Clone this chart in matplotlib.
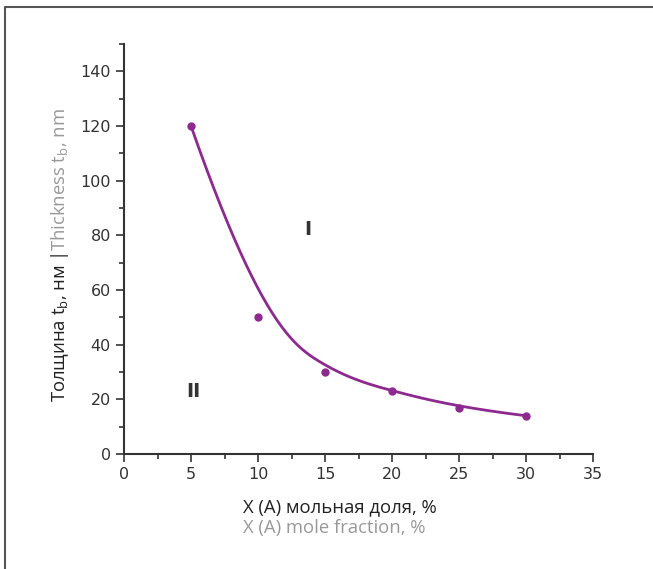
import numpy as np
import matplotlib.pyplot as plt
from matplotlib.lines import Line2D
from matplotlib.ticker import MultipleLocator

# mole fraction X(A), % and film thickness t_b, nm
mole_fraction = [5, 10, 15, 20, 25, 30]
thickness = [120, 50, 30, 23, 17, 14]

purple = '#8e2a8f'
dark = '#333333'
grey = '#999999'
label_font = ['Open Sans', 'DejaVu Sans']


def bspline(points, n=300, k=3):
    """Clamped uniform B-spline with the data points as control points."""
    P = np.asarray(points, float)
    m = len(P)
    knots = np.concatenate([np.zeros(k), np.arange(m - k + 1), np.full(k, m - k)])
    u = np.linspace(0, m - k, n)
    u[-1] -= 1e-9
    # Cox-de Boor recursion
    N = np.array([(knots[i] <= u) & (u < knots[i + 1]) for i in range(len(knots) - 1)], float).T
    for d in range(1, k + 1):
        Nn = np.zeros((n, len(knots) - 1 - d))
        for i in range(len(knots) - 1 - d):
            a = knots[i + d] - knots[i]
            b = knots[i + d + 1] - knots[i + 1]
            if a > 0:
                Nn[:, i] += (u - knots[i]) / a * N[:, i]
            if b > 0:
                Nn[:, i] += (knots[i + d + 1] - u) / b * N[:, i + 1]
        N = Nn
    return N @ P


curve = bspline(np.column_stack([mole_fraction, thickness]))

fig = plt.figure(figsize=(6.53, 5.69), dpi=100)
ax = fig.add_axes([124 / 653, 1 - 454 / 569, (593 - 124) / 653, (454 - 44) / 569])

ax.plot(curve[:, 0], curve[:, 1], color=purple, lw=2)
ax.plot(mole_fraction, thickness, 'o', color=purple, ms=5)

ax.set_xlim(0, 35)
ax.set_ylim(0, 150)
ax.xaxis.set_major_locator(MultipleLocator(5))
ax.xaxis.set_minor_locator(MultipleLocator(2.5))
ax.yaxis.set_minor_locator(MultipleLocator(10))
ax.set_yticks(range(0, 141, 20))
for side in ('top', 'right'):
    ax.spines[side].set_visible(False)
for side in ('left', 'bottom'):
    ax.spines[side].set_color(dark)
    ax.spines[side].set_linewidth(1.5)
ax.tick_params(which='major', direction='out', length=6, width=1.2, color=dark,
               labelsize=11.5, labelcolor=dark)
ax.tick_params(which='minor', direction='out', length=3.5, width=1.2, color=dark)

ax.text(13.7, 82, 'I', fontsize=14, fontweight='bold', color=dark, ha='center', va='center')
ax.text(5.2, 23, 'II', fontsize=14, fontweight='bold', color=dark, ha='center', va='center')

# axis titles: Russian line dark, English line grey
fig.text(243 / 653, 1 - 507 / 569, 'X (A) мольная доля, %', family=label_font,
         fontsize=13.3, color='#222222', ha='left', va='center')
fig.text(243 / 653, 1 - 528 / 569, 'X (A) mole fraction, %', family=label_font,
         fontsize=13.3, color=grey, ha='left', va='center')

ylab_x = 60 / 653
t1 = fig.text(ylab_x, 1 - 402 / 569, 'Толщина t$_\\mathregular{b}$, нм |', family=label_font,
              fontsize=13.3, color='#222222', rotation=90, ha='center', va='bottom')
fig.canvas.draw()
bb = t1.get_window_extent().transformed(fig.transFigure.inverted())
fig.text(ylab_x, bb.y1 + 0.002, 'Thickness t$_\\mathregular{b}$, nm', family=label_font,
         fontsize=13.3, color=grey, rotation=90, ha='center', va='bottom')

# panel frame along the top and left edges
fig.add_artist(Line2D([5 / 653, 5 / 653, 1], [0, 1 - 7 / 569, 1 - 7 / 569],
                      transform=fig.transFigure, color='#555555', lw=1.5))

fig.savefig('out.png', dpi=100)
